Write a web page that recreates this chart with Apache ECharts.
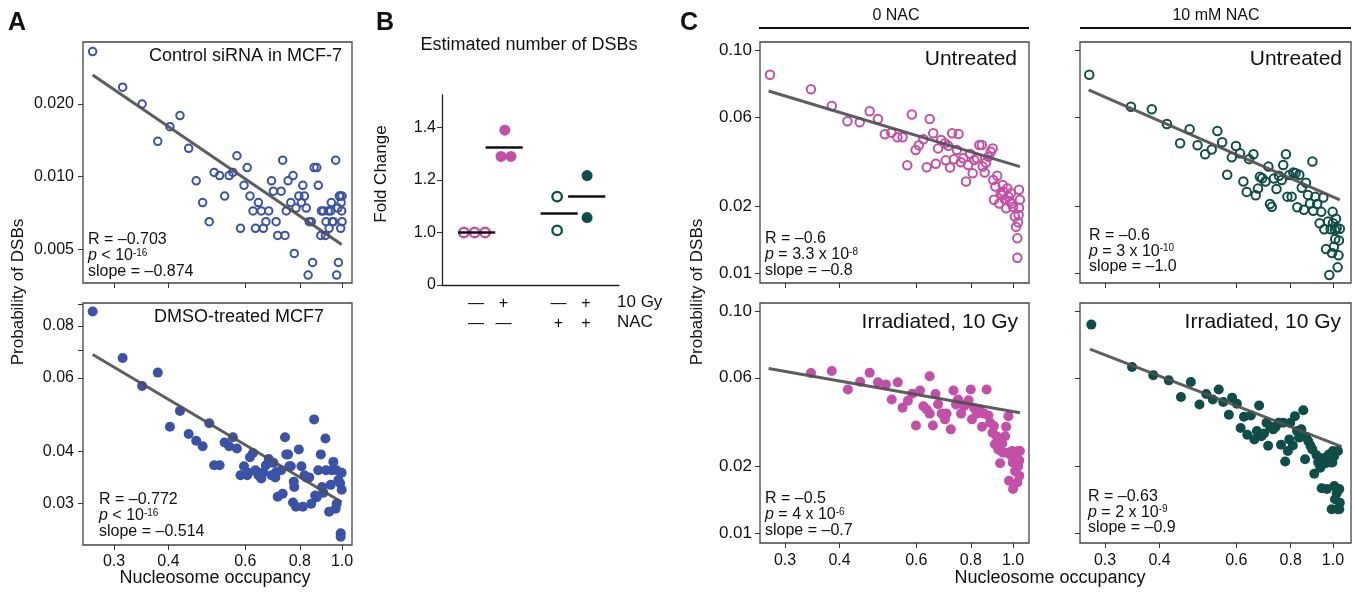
<!DOCTYPE html>
<html><head><meta charset="utf-8">
<script src="https://cdn.jsdelivr.net/npm/echarts@6/dist/echarts.min.js"></script>
<style>html,body{margin:0;padding:0;background:#fff}#c{width:1355px;height:592px}</style>
</head><body><div id="c"></div>
<script>
// ---------------- DATA ----------------
// Panel A (x: nucleosome occupancy, y: probability of DSBs)
const ctrlSiRNA = [[0.268,0.0330],[0.314,0.0235],[0.348,0.0200],[0.378,0.0140],[0.403,0.0161],[0.425,0.0179],[0.445,0.0131],[0.463,0.0096],[0.479,0.0078],[0.496,0.0065],[0.509,0.0104],[0.524,0.0101],[0.538,0.0083],[0.551,0.0101],[0.562,0.0104],[0.574,0.0122],[0.585,0.0061],[0.596,0.0092],[0.606,0.0109],[0.615,0.0083],[0.625,0.0072],[0.633,0.0061],[0.643,0.0078],[0.653,0.0072],[0.660,0.0061],[0.669,0.0065],[0.679,0.0072],[0.689,0.0096],[0.696,0.0087],[0.706,0.0065],[0.712,0.0057],[0.725,0.0087],[0.731,0.0117],[0.740,0.0057],[0.745,0.0072],[0.752,0.0096],[0.763,0.0078],[0.772,0.0101],[0.777,0.0048],[0.784,0.0074],[0.796,0.0083],[0.807,0.0078],[0.813,0.0092],[0.820,0.0083],[0.828,0.0074],[0.836,0.0039],[0.841,0.0065],[0.850,0.0065],[0.856,0.0044],[0.863,0.0109],[0.875,0.0109],[0.882,0.0092],[0.894,0.0057],[0.906,0.0072],[0.916,0.0057],[0.919,0.0065],[0.934,0.0061],[0.942,0.0072],[0.945,0.0078],[0.955,0.0065],[0.967,0.0117],[0.972,0.0039],[0.981,0.0044],[0.978,0.0074],[0.986,0.0083],[0.995,0.0078],[0.998,0.0072],[0.993,0.0061],[1.0,0.0065],[0.990,0.0083],[1.0,0.0083],[0.930,0.0072],[0.897,0.0072],[0.950,0.0065]];
const dmsoMCF7 = [[0.268,0.0867],[0.314,0.0670],[0.348,0.0574],[0.378,0.0618],[0.403,0.0458],[0.425,0.0500],[0.445,0.0440],[0.463,0.0424],[0.479,0.0411],[0.496,0.0467],[0.509,0.0370],[0.524,0.0370],[0.538,0.0420],[0.551,0.0411],[0.562,0.0432],[0.574,0.0406],[0.585,0.0350],[0.596,0.0368],[0.606,0.0350],[0.615,0.0387],[0.625,0.0396],[0.633,0.0360],[0.643,0.0350],[0.653,0.0344],[0.660,0.0356],[0.669,0.0370],[0.679,0.0383],[0.689,0.0350],[0.696,0.0375],[0.706,0.0356],[0.712,0.0311],[0.725,0.0360],[0.731,0.0316],[0.740,0.0432],[0.745,0.0393],[0.752,0.0393],[0.763,0.0368],[0.772,0.0301],[0.777,0.0328],[0.784,0.0294],[0.796,0.0404],[0.807,0.0368],[0.813,0.0294],[0.820,0.0350],[0.828,0.0346],[0.841,0.0346],[0.850,0.0299],[0.863,0.0477],[0.875,0.0310],[0.882,0.0360],[0.894,0.0393],[0.900,0.0328],[0.906,0.0318],[0.916,0.0429],[0.919,0.0360],[0.934,0.0286],[0.942,0.0332],[0.948,0.0360],[0.955,0.0377],[0.967,0.0291],[0.972,0.0360],[0.981,0.0341],[0.990,0.0335],[0.998,0.0323],[0.998,0.0355],[0.993,0.0254],[0.993,0.0249],[0.972,0.0299],[0.868,0.0313],[0.775,0.0338],[0.757,0.0368],[0.703,0.0346],[0.610,0.0355]];
const fitCtrl = [[0.268,0.0264],[0.998,0.00523]];
const fitDmso = [[0.268,0.0683],[0.998,0.0302]];

// Panel C
const untreated0 = [[0.277,0.0775],[0.344,0.0667],[0.384,0.0561],[0.417,0.0479],[0.445,0.0474],[0.469,0.0531],[0.490,0.0490],[0.508,0.0419],[0.526,0.0426],[0.543,0.0406],[0.558,0.0406],[0.572,0.0304],[0.586,0.0514],[0.598,0.0356],[0.608,0.0374],[0.623,0.0398],[0.634,0.0298],[0.644,0.0490],[0.656,0.0423],[0.665,0.0309],[0.673,0.0362],[0.684,0.0395],[0.698,0.0382],[0.701,0.0320],[0.710,0.0372],[0.717,0.0297],[0.725,0.0423],[0.732,0.0324],[0.743,0.0356],[0.750,0.0420],[0.759,0.0314],[0.769,0.0327],[0.780,0.0257],[0.789,0.0305],[0.797,0.0342],[0.808,0.0280],[0.815,0.0321],[0.826,0.0327],[0.837,0.0375],[0.848,0.0375],[0.852,0.0300],[0.861,0.0282],[0.867,0.0312],[0.878,0.0332],[0.889,0.0350],[0.898,0.0362],[0.901,0.0261],[0.911,0.0244],[0.920,0.0273],[0.930,0.0205],[0.937,0.0228],[0.944,0.0224],[0.950,0.0232],[0.959,0.0213],[0.964,0.0195],[0.970,0.0240],[0.976,0.0220],[0.984,0.0209],[0.989,0.0228],[0.993,0.0205],[1.0,0.0198],[1.01,0.0179],[1.016,0.0161],[1.023,0.0143],[1.023,0.0117],[0.904,0.0213],[0.947,0.0248],[1.032,0.0236],[1.037,0.0213],[1.027,0.0169],[1.032,0.0196],[1.030,0.0182]];
const untreated10 = [[0.276,0.0775],[0.344,0.0557],[0.384,0.0542],[0.416,0.0466],[0.446,0.0382],[0.469,0.0441],[0.489,0.0374],[0.509,0.0341],[0.527,0.0358],[0.543,0.0433],[0.557,0.0386],[0.572,0.0276],[0.586,0.0330],[0.599,0.0371],[0.612,0.0344],[0.623,0.0257],[0.634,0.0231],[0.642,0.0324],[0.657,0.0341],[0.665,0.0223],[0.673,0.0239],[0.680,0.0270],[0.688,0.0266],[0.700,0.0257],[0.711,0.0300],[0.717,0.0204],[0.724,0.0198],[0.732,0.0265],[0.742,0.0238],[0.752,0.0273],[0.763,0.0261],[0.769,0.0305],[0.780,0.0341],[0.786,0.0220],[0.794,0.0275],[0.804,0.0220],[0.811,0.0282],[0.821,0.0280],[0.828,0.0197],[0.837,0.0276],[0.848,0.0241],[0.858,0.0192],[0.867,0.0254],[0.876,0.0224],[0.886,0.0205],[0.897,0.0316],[0.901,0.0190],[0.911,0.0220],[0.920,0.0204],[0.932,0.0167],[0.940,0.0188],[0.950,0.0218],[0.955,0.0157],[0.964,0.0128],[0.974,0.0170],[0.981,0.0098],[0.988,0.0157],[0.995,0.0123],[0.998,0.0188],[1.005,0.0131],[1.012,0.0142],[1.016,0.0175],[1.020,0.0159],[1.025,0.0106],[1.030,0.0120],[1.032,0.0140],[1.037,0.0158],[1.011,0.0156],[1.0,0.0167]];
const irradiated0 = [[0.344,0.0526],[0.384,0.0537],[0.418,0.0443],[0.446,0.0480],[0.469,0.0527],[0.490,0.0477],[0.511,0.0466],[0.527,0.0399],[0.544,0.0477],[0.558,0.0367],[0.574,0.0394],[0.587,0.0424],[0.599,0.0305],[0.612,0.0438],[0.623,0.0372],[0.634,0.0360],[0.644,0.0508],[0.655,0.0305],[0.664,0.0423],[0.673,0.0380],[0.686,0.0345],[0.698,0.0325],[0.704,0.0345],[0.720,0.0293],[0.730,0.0438],[0.740,0.0379],[0.748,0.0399],[0.760,0.0345],[0.772,0.0372],[0.782,0.0383],[0.791,0.0396],[0.800,0.0443],[0.805,0.0325],[0.814,0.0366],[0.826,0.0345],[0.838,0.0360],[0.849,0.0301],[0.858,0.0345],[0.870,0.0443],[0.878,0.0338],[0.886,0.0314],[0.897,0.0283],[0.904,0.0303],[0.909,0.0251],[0.917,0.0273],[0.925,0.0238],[0.934,0.0206],[0.939,0.0234],[0.950,0.0230],[0.959,0.0273],[0.964,0.0301],[0.976,0.0336],[0.979,0.0172],[0.984,0.0226],[0.995,0.0234],[0.998,0.0208],[1.0,0.0158],[1.011,0.0190],[1.020,0.0218],[1.023,0.0169],[1.028,0.0234],[1.028,0.0200],[1.034,0.0181],[0.934,0.0253],[0.945,0.0253],[0.976,0.0230],[0.644,0.0345],[1.037,0.0234],[1.034,0.0212]];
const irradiated10 = [[0.279,0.0868],[0.346,0.0559],[0.387,0.0514],[0.420,0.0487],[0.448,0.0410],[0.472,0.0479],[0.494,0.0379],[0.512,0.0423],[0.530,0.0399],[0.547,0.0443],[0.560,0.0389],[0.577,0.0341],[0.587,0.0407],[0.602,0.0382],[0.614,0.0297],[0.625,0.0334],[0.636,0.0277],[0.648,0.0338],[0.660,0.0264],[0.669,0.0288],[0.677,0.0375],[0.685,0.0273],[0.695,0.0281],[0.704,0.0314],[0.710,0.0247],[0.718,0.0301],[0.729,0.0293],[0.739,0.0301],[0.751,0.0314],[0.760,0.0250],[0.769,0.0314],[0.777,0.0210],[0.788,0.0234],[0.794,0.0264],[0.798,0.0314],[0.809,0.0248],[0.818,0.0336],[0.827,0.0288],[0.836,0.0269],[0.846,0.0293],[0.855,0.0357],[0.863,0.0215],[0.868,0.0271],[0.878,0.0259],[0.888,0.0247],[0.897,0.0238],[0.906,0.0185],[0.917,0.0224],[0.925,0.0208],[0.935,0.0197],[0.942,0.0159],[0.953,0.0218],[0.961,0.0206],[0.969,0.0158],[0.979,0.0226],[0.988,0.0208],[0.993,0.0128],[1.0,0.0234],[1.007,0.0163],[1.011,0.0142],[1.020,0.0151],[1.024,0.0128],[1.027,0.0234],[1.034,0.0158],[1.037,0.0137],[1.034,0.0128],[0.997,0.0208],[1.007,0.0222]];
const fitUntr0 = [[0.275,0.0655],[1.037,0.0300]];
const fitUntr10 = [[0.275,0.0662],[1.037,0.0213]];
const fitIrr0 = [[0.275,0.0551],[1.037,0.0348]];
const fitIrr10 = [[0.277,0.0673],[1.047,0.0245]];

// Panel B: fold change
const bGroupPos = [1, 2, 4, 5];
const bGy = ['\u2014', '+', '\u2014', '+'];
const bNac = ['\u2014', '\u2014', '+', '+'];
const bValues = [[1.0, 1.0, 1.0], [1.39, 1.29, 1.29], [1.137, 1.008], [1.217, 1.057]];
const bJitter = [[-0.44, -0.05, 0.33], [0.05, -0.09, 0.27], [-0.05, -0.05], [0.04, 0.04]];
const bMeans = [1.0, 1.324, 1.072, 1.137];

// Tick labels
const occTicks = [0.3, 0.4, 0.6, 0.8, 1.0];
const occLabels = ['0.3', '0.4', '0.6', '0.8', '1.0'];
const aTopTicks = [0.005, 0.010, 0.020];
const aTopLabels = ['0.005', '0.010', '0.020'];
const aBotTicks = [0.03, 0.04, 0.06, 0.07, 0.08, 0.09];
const aBotLabels = ['0.03', '0.04', '0.06', '', '0.08', ''];
const cTicks = [0.01, 0.02, 0.05, 0.10];
const cLabels = ['0.01', '0.02', '0.06', '0.10'];
const bTicks = [0.8, 1.0, 1.2, 1.4];
const bLabels = ['0', '1.0', '1.2', '1.4'];

// ---------------- CHART ----------------
const FONT = "'Liberation Sans', Arial, Helvetica, sans-serif";
const BLUE = '#3a52a8', PINK = '#c34fa8', TEAL = '#0e4d48', FITC = 'rgba(80,80,80,0.92)';
const lg = v => Math.log10(v);
const toLog = arr => arr.map(p => [lg(p[0]), lg(p[1])]);

function logAxis(gi, range, ticks, labels, showLabels, fontSize, margin) {
  const cv = ticks.map(lg);
  return {
    type: 'value', gridIndex: gi, min: lg(range[0]), max: lg(range[1]),
    axisLine: { show: false, onZero: false }, splitLine: { show: false },
    axisTick: { show: true, customValues: cv, length: 5, lineStyle: { color: '#333', width: 1 } },
    axisLabel: {
      show: showLabels, customValues: cv.filter((v, i) => labels[i] !== ''), margin: margin,
      fontSize: fontSize, color: '#111', fontFamily: FONT,
      formatter: function (v) { for (let i = 0; i < cv.length; i++) if (Math.abs(cv[i] - v) < 1e-6) return labels[i]; return ''; }
    }
  };
}

const frame = { show: true, borderColor: '#444', borderWidth: 1.3, backgroundColor: 'transparent' };
const grids = [
  Object.assign({ left: 83, top: 42, width: 269, height: 241 }, frame),
  Object.assign({ left: 83, top: 303, width: 269, height: 242 }, frame),
  { left: 442, top: 95, width: 177, height: 190, show: false },
  Object.assign({ left: 760, top: 42, width: 269, height: 241 }, frame),
  Object.assign({ left: 1080, top: 42, width: 271, height: 241 }, frame),
  Object.assign({ left: 760, top: 303, width: 269, height: 240 }, frame),
  Object.assign({ left: 1080, top: 303, width: 271, height: 240 }, frame)
];

const aX = [0.2547, 1.054];
const cXL = [0.2628, 1.088], cXR = [0.2628, 1.100];
const cY = [0.009019, 0.1086];

const xAxes = [
  logAxis(0, aX, occTicks, occLabels, false, 16, 9),
  logAxis(1, aX, occTicks, occLabels, true, 16, 9),
  {
    type: 'value', gridIndex: 2, min: -0.236, max: 6.2,
    axisLine: { show: true, onZero: false, lineStyle: { color: '#222', width: 1.3 } },
    axisTick: { show: false }, splitLine: { show: false },
    axisLabel: {
      customValues: bGroupPos, margin: 9, fontSize: 16, color: '#111', fontFamily: FONT, lineHeight: 20,
      formatter: function (v) { const i = bGroupPos.indexOf(Math.round(v)); return i < 0 ? '' : bGy[i] + '\n' + bNac[i]; }
    }
  },
  logAxis(3, cXL, occTicks, occLabels, false, 16, 10),
  logAxis(4, cXR, occTicks, occLabels, false, 16, 10),
  logAxis(5, cXL, occTicks, occLabels, true, 16, 10),
  logAxis(6, cXR, occTicks, occLabels, true, 16, 10)
];
const yAxes = [
  logAxis(0, [0.003617, 0.03617], aTopTicks, aTopLabels, true, 16, 9),
  logAxis(1, [0.02380, 0.09086], aBotTicks, aBotLabels, true, 16, 9),
  {
    type: 'value', gridIndex: 2, min: 0.8, max: 1.524,
    axisLine: { show: true, onZero: false, lineStyle: { color: '#222', width: 1.3 } },
    axisTick: { show: true, customValues: bTicks, length: 5, lineStyle: { color: '#333' } },
    splitLine: { show: false },
    axisLabel: {
      customValues: bTicks, margin: 6, fontSize: 16, color: '#111', fontFamily: FONT,
      formatter: function (v) { for (let i = 0; i < bTicks.length; i++) if (Math.abs(bTicks[i] - v) < 1e-6) return bLabels[i]; return ''; }
    }
  },
  logAxis(3, cY, cTicks, cLabels, true, 17, 8),
  logAxis(4, cY, cTicks, cLabels, false, 17, 8),
  logAxis(5, cY, cTicks, cLabels, true, 17, 8),
  logAxis(6, cY, cTicks, cLabels, false, 17, 8)
];

function pts(gi, data, color, open, size) {
  return {
    type: 'scatter', xAxisIndex: gi, yAxisIndex: gi, data: toLog(data), symbol: 'circle', symbolSize: size,
    itemStyle: open ? { color: 'rgba(255,255,255,0)', borderColor: color, borderWidth: 2, opacity: 1 } : { color: color, opacity: 1 },
    z: 2, silent: true
  };
}
function fit(gi, data) {
  return { type: 'line', xAxisIndex: gi, yAxisIndex: gi, data: toLog(data), symbol: 'none',
    lineStyle: { color: FITC, width: 3 }, z: 3, silent: true };
}

const series = [
  pts(0, ctrlSiRNA, BLUE, true, 7.5), fit(0, fitCtrl),
  pts(1, dmsoMCF7, BLUE, false, 10), fit(1, fitDmso),
  pts(3, untreated0, PINK, true, 8.5), fit(3, fitUntr0),
  pts(4, untreated10, TEAL, true, 8.5), fit(4, fitUntr10),
  pts(5, irradiated0, PINK, false, 10), fit(5, fitIrr0),
  pts(6, irradiated10, TEAL, false, 10), fit(6, fitIrr10)
];
// Panel B points and mean lines
const bColors = [PINK, PINK, TEAL, TEAL];
const bOpen = [true, false, true, false];
bValues.forEach(function (vals, g) {
  series.push({
    type: 'scatter', xAxisIndex: 2, yAxisIndex: 2, symbol: 'circle', symbolSize: bOpen[g] ? 9.5 : 11,
    data: vals.map((v, k) => [bGroupPos[g] + bJitter[g][k], v]),
    itemStyle: bOpen[g] ? { color: 'rgba(255,255,255,0)', borderColor: bColors[g], borderWidth: 2.3, opacity: 1 } : { color: bColors[g], opacity: 1 },
    z: 2, silent: true
  });
  series.push({
    type: 'line', xAxisIndex: 2, yAxisIndex: 2, symbol: 'none', z: 3, silent: true,
    data: [[bGroupPos[g] - 0.65, bMeans[g]], [bGroupPos[g] + 0.7, bMeans[g]]],
    lineStyle: { color: '#111', width: 2.5 }
  });
});

function T(x, y, text, size, opts) {
  return Object.assign({
    type: 'text', x: x, y: y, silent: true,
    style: Object.assign({ text: text, fontSize: size, fontFamily: FONT, fill: '#111',
      textAlign: 'left', textVerticalAlign: 'middle', align: 'left', verticalAlign: 'middle' }, opts || {})
  });
}
const richStats = {
  i: { fontStyle: 'italic', fontSize: 16, fontFamily: FONT },
  s: { fontSize: 10, verticalAlign: 'top', lineHeight: 6, fontFamily: FONT }
};
function stats(x, yTop, lines, lh) {
  return T(x, yTop, lines.join('\n'), 16, { textVerticalAlign: 'top', verticalAlign: 'top', lineHeight: lh || 16, rich: richStats });
}
function R(x, y, text, size) { return T(x, y, text, size, { textAlign: 'right', align: 'right' }); }
function C(x, y, text, size) { return T(x, y, text, size, { textAlign: 'center', align: 'center' }); }

const M = '\u2013';
const graphics = [
  T(8, 23, 'A', 25, { fontWeight: 'bold' }),
  T(376, 23, 'B', 25, { fontWeight: 'bold' }),
  T(680, 23, 'C', 25, { fontWeight: 'bold' }),
  R(342, 56, 'Control siRNA in MCF-7', 18),
  R(324, 317, 'DMSO-treated MCF7', 18),
  stats(88, 232, ['R = ' + M + '0.703', '{i|p} < 10{s|-16}', 'slope = ' + M + '0.874']),
  stats(99, 492, ['R = ' + M + '0.772', '{i|p} < 10{s|-16}', 'slope = ' + M + '0.514']),
  Object.assign(C(18, 292, 'Probability of DSBs', 17), { rotation: Math.PI / 2 }),
  C(215, 578, 'Nucleosome occupancy', 18),
  C(529, 45, 'Estimated number of DSBs', 18),
  Object.assign(C(381, 174, 'Fold Change', 17), { rotation: Math.PI / 2 }),
  T(617, 302, '10 Gy', 17),
  T(617, 322, 'NAC', 17),
  C(896, 16, '0 NAC', 16),
  C(1216, 16, '10 mM NAC', 16),
  { type: 'line', silent: true, shape: { x1: 759, y1: 28, x2: 1029, y2: 28 }, style: { stroke: '#111', lineWidth: 2 } },
  { type: 'line', silent: true, shape: { x1: 1080, y1: 28, x2: 1351, y2: 28 }, style: { stroke: '#111', lineWidth: 2 } },
  R(1017, 59, 'Untreated', 21),
  R(1342, 59, 'Untreated', 21),
  R(1018, 322, 'Irradiated, 10 Gy', 21),
  R(1341, 322, 'Irradiated, 10 Gy', 21),
  stats(765, 231, ['R = ' + M + '0.6', '{i|p} = 3.3 x 10{s|-8}', 'slope = ' + M + '0.8']),
  stats(1089, 228, ['R = ' + M + '0.6', '{i|p} = 3 x 10{s|-10}', 'slope = ' + M + '1.0'], 15.5),
  stats(765, 491, ['R = ' + M + '0.5', '{i|p} = 4 x 10{s|-6}', 'slope = ' + M + '0.7']),
  stats(1088, 489, ['R = ' + M + '0.63', '{i|p} = 2 x 10{s|-9}', 'slope = ' + M + '0.9'], 15.5),
  Object.assign(C(697, 292, 'Probability of DSBs', 17), { rotation: Math.PI / 2 }),
  C(1050, 578, 'Nucleosome occupancy', 18)
];

const chart = echarts.init(document.getElementById('c'), null, { renderer: 'canvas' });
chart.setOption({
  animation: false,
  backgroundColor: '#fff',
  textStyle: { fontFamily: FONT },
  grid: grids, xAxis: xAxes, yAxis: yAxes, series: series,
  graphic: { elements: graphics }
});
</script>
</body></html>
